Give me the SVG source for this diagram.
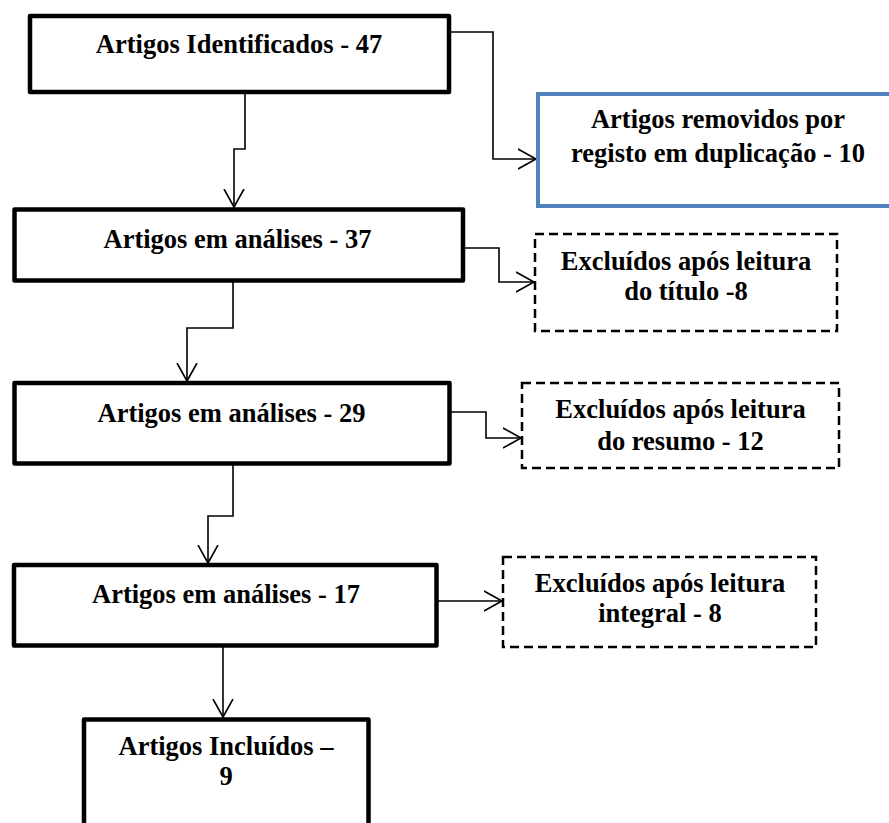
<svg xmlns="http://www.w3.org/2000/svg" width="889" height="823" viewBox="0 0 889 823">
<style>
.box{fill:#fff;stroke:#000;stroke-width:4.5;stroke-linejoin:round}
.blue{fill:#fff;stroke:#4f81bd;stroke-width:4}
.dash{fill:#fff;stroke:#000;stroke-width:2.5;stroke-dasharray:9 5}
.t{font-family:"Liberation Serif","Times New Roman",serif;font-weight:bold;font-size:26.5px;text-anchor:middle;fill:#000}
.c{fill:none;stroke:#000;stroke-width:1.6;marker-end:url(#arr)}
</style>
<defs>
<marker id="arr" viewBox="0 0 20 22" refX="18" refY="11" markerWidth="20" markerHeight="22" markerUnits="userSpaceOnUse" orient="auto">
<path d="M0,1 L18,11 L0,21" fill="none" stroke="#000" stroke-width="1.6"/>
</marker>
</defs>
<rect width="889" height="823" fill="#fff"/>
<g id="connectors">
<path class="c" d="M449,32 H493 V159 H536"/>
<path class="c" d="M245,94 V149 H234 V207"/>
<path class="c" d="M463,248 H499 V282 H534"/>
<path class="c" d="M233,282 V328 H187 V381"/>
<path class="c" d="M451,412 H486 V438 H521"/>
<path class="c" d="M233,465 V516 H208 V563"/>
<path class="c" d="M438,601 H502"/>
<path class="c" d="M223,647 V717"/>
</g>
<g id="n1"><rect class="box" x="30" y="16" width="419" height="76"/><text class="t" x="239" y="53">Artigos Identificados - 47</text></g>
<g id="n2"><rect class="blue" x="538" y="94" width="400" height="112"/><text class="t" x="718" y="128">Artigos removidos por</text><text class="t" x="718" y="162">registo em duplicação - 10</text></g>
<g id="n3"><rect class="box" x="14.5" y="209.5" width="448.5" height="71"/><text class="t" x="237.5" y="248">Artigos em análises - 37</text></g>
<g id="n4"><rect class="dash" x="535" y="234" width="302" height="97"/><text class="t" x="686" y="270">Excluídos após leitura</text><text class="t" x="686" y="300">do título -8</text></g>
<g id="n5"><rect class="box" x="14.5" y="383" width="435" height="80.5"/><text class="t" x="231.5" y="422">Artigos em análises - 29</text></g>
<g id="n6"><rect class="dash" x="522" y="383" width="317" height="85"/><text class="t" x="680.5" y="418">Excluídos após leitura</text><text class="t" x="680.5" y="450">do resumo - 12</text></g>
<g id="n7"><rect class="box" x="14" y="565" width="422.5" height="80.5"/><text class="t" x="226" y="603">Artigos em análises - 17</text></g>
<g id="n8"><rect class="dash" x="503" y="557" width="313" height="90"/><text class="t" x="660" y="592">Excluídos após leitura</text><text class="t" x="660" y="622">integral - 8</text></g>
<g id="n9"><rect class="box" x="84" y="719.5" width="284.5" height="130"/><text class="t" x="226" y="755">Artigos Incluídos –</text><text class="t" x="226" y="785">9</text></g>
</svg>
